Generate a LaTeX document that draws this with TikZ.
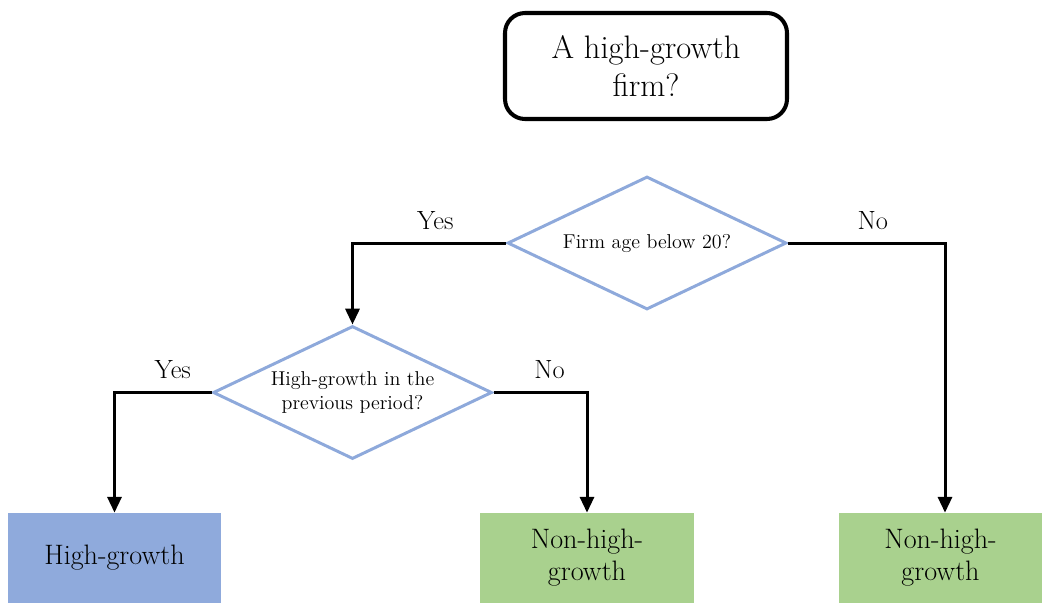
\documentclass[tikz,border=0pt]{standalone}
\usetikzlibrary{shapes.geometric,arrows.meta,positioning}

\definecolor{edgeblue}{HTML}{8EA9DB}
\definecolor{fillblue}{HTML}{8FAADC}
\definecolor{fillgreen}{HTML}{A9D18E}

\begin{document}
\begin{tikzpicture}[
    titlebox/.style={draw, line width=2.3pt, rounded corners=0.4cm, minimum width=5.64cm, minimum height=2.12cm, align=center, font=\fontsize{18.5}{21.6}\selectfont},
    decision/.style={diamond, aspect=2.07, draw=edgeblue, line width=1.7pt, inner sep=0pt, minimum width=5.58cm, minimum height=2.66cm, align=center, font=\fontsize{11.4}{13.6}\selectfont},
    outcome/.style={rectangle, inner sep=0pt, minimum height=1.8cm, align=center, font=\fontsize{16}{18.2}\selectfont},
    branch/.style={line width=1.7pt, -{Triangle[width=8pt,length=9pt]}},
    answer/.style={above=7pt, inner sep=0pt, font=\fontsize{15}{18}\selectfont}
]

    % Fix the size of the page
    \useasboundingbox (0,0) rectangle (20.84,-12.06);

    % The question at the top
    \node[titlebox] (title) at (12.92,-1.32) {A high-growth\\firm?};

    % The two decisions
    \node[decision] (age) at (12.94,-4.86) {Firm age below 20?};
    \node[decision] (prev) at (7.05,-7.85) {High-growth in the\\previous period?};

    % The outcomes at the bottom
    \node[outcome, fill=fillblue, minimum width=4.26cm] (hg) at (2.29,-11.16) {High-growth};
    \node[outcome, fill=fillgreen, minimum width=4.28cm] (nhgA) at (11.74,-11.16) {Non-high-\\growth};
    \node[outcome, fill=fillgreen, minimum width=4.06cm] (nhgB) at (18.81,-11.16) {Non-high-\\growth};

    % Branches of the first decision
    \draw[branch] (age.west) -| node[answer, pos=0.23] {Yes} (prev.north);
    \draw[branch] (age.east) -| node[answer, pos=0.27] {No} ([xshift=0.09cm]nhgB.north);

    % Branches of the second decision
    \draw[branch] (prev.west) -| node[answer, pos=0.2] {Yes} (hg.north);
    \draw[branch] (prev.east) -| node[answer, pos=0.3] {No} (nhgA.north);

\end{tikzpicture}
\end{document}
